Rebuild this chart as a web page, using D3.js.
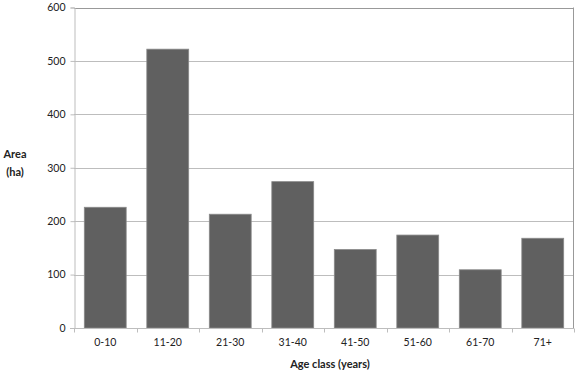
<!DOCTYPE html>
<html><head><meta charset="utf-8">
<script src="https://cdn.jsdelivr.net/npm/d3@7"></script>
<style>body{margin:0;background:#fff}svg{display:block}text{font-family:Lato,"Open Sans",sans-serif;fill:#222}</style>
</head><body>
<script>
const categories = ["0-10","11-20","21-30","31-40","41-50","51-60","61-70","71+"];
const values = [226, 522, 213, 274, 147, 174, 109, 168];
const yTicks = [0,100,200,300,400,500,600];

const W = 575, H = 381;
const m = {left:74, right:1, top:7.5, bottom:53};
const svg = d3.select("body").append("svg").attr("width",W).attr("height",H);

const x = d3.scaleBand().domain(categories).range([m.left, W-m.right]).paddingInner(0.33).paddingOuter(0.165);
const xb = d3.scaleBand().domain(categories).range([m.left, W-m.right]);
const y = d3.scaleLinear().domain([0,600]).range([H-m.bottom, m.top]);

// gridlines
svg.append("g").selectAll("line").data(yTicks.filter(d=>d>0)).join("line")
  .attr("x1",m.left).attr("x2",W-m.right)
  .attr("y1",d=>Math.round(y(d))+0.5).attr("y2",d=>Math.round(y(d))+0.5)
  .attr("stroke",d=>d===600?"#999":"#bdbdbd").attr("stroke-width",1);
// right border
svg.append("line").attr("x1",W-m.right-0.5).attr("x2",W-m.right-0.5)
  .attr("y1",y(600)).attr("y2",y(0)).attr("stroke","#999");

// bars
svg.append("g").selectAll("rect").data(values).join("rect")
  .attr("x",(d,i)=>x(categories[i]))
  .attr("width",x.bandwidth())
  .attr("y",d=>y(d))
  .attr("height",d=>y(0)-y(d))
  .attr("fill","#606060").attr("stroke","#8a8a8a").attr("stroke-width",0.8);

// y axis
const ya = svg.append("g").attr("transform",`translate(${m.left+0.5},0)`)
  .call(d3.axisLeft(y).tickValues(yTicks).tickSize(4).tickPadding(5));
ya.select(".domain").attr("stroke","#bdbdbd");
ya.selectAll(".tick line").attr("stroke","#bdbdbd");
ya.selectAll("text").attr("font-size","10.5px").attr("fill","#222");

// x axis
const xa = svg.append("g").attr("transform",`translate(0,${Math.round(y(0))+0.5})`);
xa.append("line").attr("x1",m.left-4).attr("x2",W-m.right).attr("stroke","#bdbdbd");
const bounds = categories.map(c=>xb(c)).concat([W-m.right]);
xa.selectAll("line.tk").data(bounds).join("line").attr("class","tk")
  .attr("x1",d=>Math.round(d)+0.5).attr("x2",d=>Math.round(d)+0.5).attr("y1",0).attr("y2",4).attr("stroke","#bdbdbd");
xa.selectAll("text").data(categories).join("text")
  .attr("x",d=>xb(d)+xb.bandwidth()/2).attr("y",17)
  .attr("text-anchor","middle").attr("font-size","10.5px").text(d=>d);

// axis titles
svg.append("text").attr("x",330).attr("y",368).attr("text-anchor","middle")
  .attr("font-size","11px").attr("font-weight","bold").text("Age class (years)");
const yt = svg.append("text").attr("x",15).attr("text-anchor","middle").attr("font-size","11px").attr("font-weight","bold");
yt.append("tspan").attr("x",15).attr("y",158).text("Area");
yt.append("tspan").attr("x",15).attr("y",176).text("(ha)");
</script>
</body></html>
